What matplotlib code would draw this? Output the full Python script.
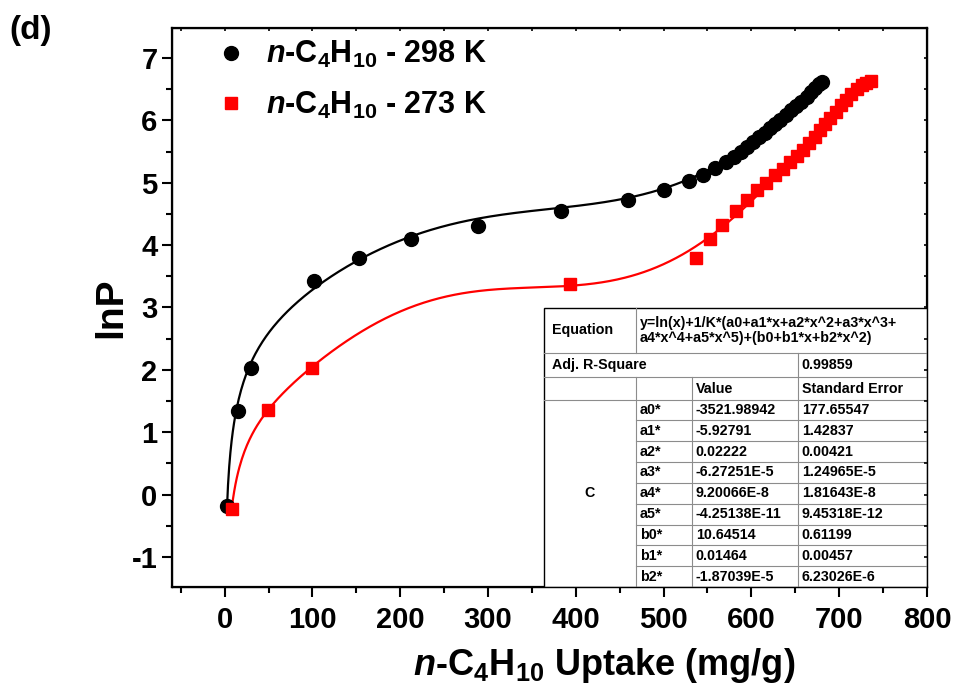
import numpy as np
import matplotlib
matplotlib.use("Agg")
import matplotlib.pyplot as plt
from matplotlib.lines import Line2D
from matplotlib.ticker import MultipleLocator

# n-C4H10 isotherms, uptake (mg/g) vs lnP
x_298 = [2.5, 14.8, 29.5, 102, 153, 212, 289, 383, 459, 500, 529, 545, 559, 571,
         580, 588, 595, 602, 609, 615, 621, 627, 633, 639, 645, 651, 657, 663,
         668, 673, 677, 680]
y_298 = [-0.18, 1.34, 2.03, 3.43, 3.80, 4.09, 4.31, 4.54, 4.73, 4.89, 5.02, 5.13,
         5.24, 5.33, 5.41, 5.49, 5.57, 5.65, 5.73, 5.80, 5.87, 5.94, 6.01, 6.08,
         6.16, 6.23, 6.30, 6.38, 6.45, 6.52, 6.58, 6.62]
x_273 = [8, 49, 99, 393, 537, 553, 566, 583, 595, 606, 617, 627, 636, 644, 652,
         659, 666, 672, 678, 684, 690, 696, 702, 708, 714, 720, 726, 731, 736]
y_273 = [-0.23, 1.36, 2.03, 3.38, 3.80, 4.10, 4.32, 4.55, 4.72, 4.88, 5.00, 5.12,
         5.22, 5.33, 5.43, 5.53, 5.64, 5.74, 5.84, 5.94, 6.04, 6.14, 6.24, 6.33,
         6.42, 6.50, 6.56, 6.60, 6.63]

# virial fit parameters (shown in the table)
par_names = ["a0*", "a1*", "a2*", "a3*", "a4*", "a5*", "b0*", "b1*", "b2*"]
par_values = ["-3521.98942", "-5.92791", "0.02222", "-6.27251E-5", "9.20066E-8",
              "-4.25138E-11", "10.64514", "0.01464", "-1.87039E-5"]
par_errors = ["177.65547", "1.42837", "0.00421", "1.24965E-5", "1.81643E-8",
              "9.45318E-12", "0.61199", "0.00457", "6.23026E-6"]
adj_r2 = "0.99859"
equation = "y=ln(x)+1/K*(a0+a1*x+a2*x^2+a3*x^3+\na4*x^4+a5*x^5)+(b0+b1*x+b2*x^2)"


def virial(n, T):
    p = [float(v) for v in par_values]
    a = p[0] + p[1]*n + p[2]*n**2 + p[3]*n**3 + p[4]*n**4 + p[5]*n**5
    b = p[6] + p[7]*n + p[8]*n**2
    return np.log(n) + a/T + b


plt.rcParams['font.family'] = ['Liberation Sans', 'DejaVu Sans']
plt.rcParams['font.weight'] = 'bold'
plt.rcParams['axes.unicode_minus'] = False
plt.rcParams['mathtext.fontset'] = 'custom'
plt.rcParams['mathtext.rm'] = 'Liberation Sans:bold'
plt.rcParams['mathtext.it'] = 'Liberation Sans:italic:bold'
plt.rcParams['mathtext.bf'] = 'Liberation Sans:bold'

fig = plt.figure(figsize=(9.58, 6.86), dpi=100)
ax = fig.add_axes([0.1795, 0.1443, 0.7881, 0.8149])

n1 = np.linspace(x_298[0], x_298[-1], 500)
ax.plot(n1, virial(n1, 298), color='black', lw=1.6, zorder=2)
# 273 K curve: same virial form (ln x + polynomial), least squares on the 273 K points
x2 = np.array(x_273, dtype=float)
poly = np.polynomial.Polynomial.fit(x2, np.array(y_273) - np.log(x2), 5)
n2 = np.linspace(x2[0], x2[-1], 500)
ax.plot(n2, np.log(n2) + poly(n2), color='red', lw=1.6, zorder=2)
ax.plot(x_298, y_298, 'o', color='black', ms=10, zorder=3)
ax.plot(x_273, y_273, 's', color='red', ms=9, zorder=3)

ax.set_xlim(-60, 800)
ax.set_ylim(-1.48, 7.48)
ax.xaxis.set_major_locator(MultipleLocator(100))
ax.xaxis.set_minor_locator(MultipleLocator(50))
ax.yaxis.set_major_locator(MultipleLocator(1))
ax.yaxis.set_minor_locator(MultipleLocator(0.5))
for s in ax.spines.values():
    s.set_linewidth(1.6)
ax.tick_params(which='major', direction='out', length=7, width=1.5)
ax.tick_params(which='minor', direction='out', length=4, width=1.5)
ax.tick_params(axis='y', labelsize=21)
ax.tick_params(axis='x', labelsize=21, pad=7)
ax2 = ax.twiny()
ax2.set_xlim(ax.get_xlim())
ax2.xaxis.set_major_locator(MultipleLocator(100))
ax2.xaxis.set_minor_locator(MultipleLocator(50))
ax2.tick_params(which='both', direction='in', length=2, width=1.2, labeltop=False)
ax3 = ax.twinx()
ax3.set_ylim(ax.get_ylim())
ax3.yaxis.set_major_locator(MultipleLocator(1))
ax3.yaxis.set_minor_locator(MultipleLocator(0.5))
ax3.tick_params(which='both', direction='in', length=2, width=1.2, labelright=False)

ax.set_xlabel(r'$\mathit{n}$-C$_{4}$H$_{10}$ Uptake (mg/g)', fontsize=26,
              fontweight='bold')
ax.xaxis.set_label_coords(0.573, -0.106)
ax.set_ylabel('lnP', fontsize=28, fontweight='bold', labelpad=2)

handles = [Line2D([], [], ls='none', marker='o', color='black', ms=10),
           Line2D([], [], ls='none', marker='s', color='red', ms=9)]
labels = [r'$\mathit{n}$-C$_{4}$H$_{10}$ - 298 K', r'$\mathit{n}$-C$_{4}$H$_{10}$ - 273 K']
ax.legend(handles, labels, loc='upper left', bbox_to_anchor=(0.017, 1.029), frameon=False,
          prop={'size': 22, 'weight': 'bold'}, handlelength=1.2, handletextpad=0.55,
          labelspacing=0.64)

fig.text(0.01, 0.956, '(d)', fontsize=24, fontweight='bold', va='center')

# fit table in the lower right corner (axes fraction layout)
cols = [0.4927, 0.6146, 0.6887, 0.8291, 1.0]
rows = [0.4991, 0.4195, 0.3748, 0.3354] + [0.3354 - 0.3354*(i+1)/9 for i in range(9)]
tkw = dict(transform=ax.transAxes, fontsize=10.3, fontweight='bold', va='center', zorder=6)
ax.add_patch(plt.Rectangle((cols[0], 0), 1-cols[0], rows[0], transform=ax.transAxes,
                           facecolor='white', edgecolor='black', lw=1.0, zorder=5))
grey = dict(transform=ax.transAxes, color='#8c8c8c', lw=0.8, zorder=5.5)
for r in rows[1:4]:
    ax.plot([cols[0], 1], [r, r], **grey)
for r in rows[4:-1]:
    ax.plot([cols[1], 1], [r, r], **grey)
ax.plot([cols[1], cols[1]], [rows[0], rows[1]], **grey)
ax.plot([cols[3], cols[3]], [rows[1], rows[2]], **grey)
for c in cols[1:4]:
    ax.plot([c, c], [rows[2], 0], **grey)
pad1, pad2 = 0.011, 0.005
ax.text(cols[0]+pad1, (rows[0]+rows[1])/2, 'Equation', **tkw)
ax.text(cols[1]+pad2, (rows[0]+rows[1])/2, equation, linespacing=1.05, **tkw)
ax.text(cols[0]+pad1, (rows[1]+rows[2])/2, 'Adj. R-Square', **tkw)
ax.text(cols[3]+pad2, (rows[1]+rows[2])/2, adj_r2, **tkw)
ax.text(cols[2]+pad2, (rows[2]+rows[3])/2, 'Value', **tkw)
ax.text(cols[3]+pad2, (rows[2]+rows[3])/2, 'Standard Error', **tkw)
ax.text((cols[0]+cols[1])/2, rows[3]/2, 'C', ha='center', **tkw)
for i in range(9):
    yc = (rows[3+i]+rows[4+i])/2
    ax.text(cols[1]+pad2, yc, par_names[i], **tkw)
    ax.text(cols[2]+pad2, yc, par_values[i], **tkw)
    ax.text(cols[3]+pad2, yc, par_errors[i], **tkw)

fig.savefig('out.png', dpi=100)
